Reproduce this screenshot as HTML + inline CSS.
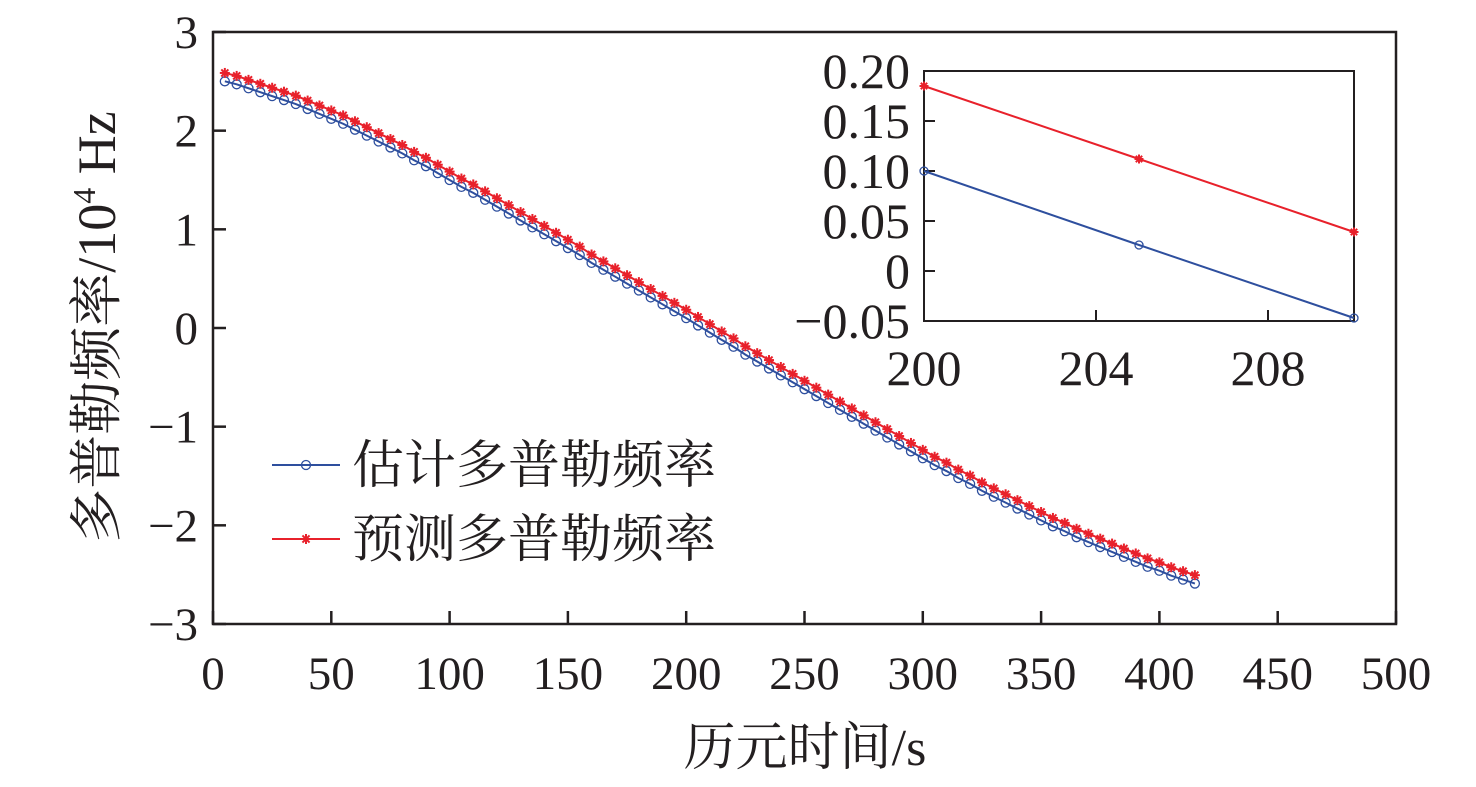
<!DOCTYPE html>
<html><head><meta charset="utf-8">
<style>
html,body{margin:0;padding:0;background:#fff;}
svg{display:block;}
text{font-family:"Liberation Serif","Noto Serif CJK SC",serif;fill:#231f20;}
</style></head>
<body>
<svg id="chart" width="1476" height="787" viewBox="0 0 1476 787" xmlns="http://www.w3.org/2000/svg"></svg>
<script>
const times = [5,10,15,20,25,30,35,40,45,50,55,60,65,70,75,80,85,90,95,100,105,110,115,120,125,130,135,140,145,150,155,160,165,170,175,180,185,190,195,200,205,210,215,220,225,230,235,240,245,250,255,260,265,270,275,280,285,290,295,300,305,310,315,320,325,330,335,340,345,350,355,360,365,370,375,380,385,390,395,400,405,410,415];
const estimated = [2.50,2.47,2.43,2.39,2.35,2.31,2.27,2.22,2.17,2.12,2.07,2.01,1.95,1.89,1.83,1.77,1.70,1.64,1.57,1.50,1.43,1.37,1.30,1.23,1.16,1.09,1.02,0.95,0.88,0.81,0.74,0.66,0.59,0.52,0.45,0.38,0.31,0.24,0.17,0.10,0.026,-0.047,-0.12,-0.19,-0.27,-0.34,-0.41,-0.48,-0.55,-0.62,-0.69,-0.76,-0.83,-0.90,-0.97,-1.04,-1.11,-1.18,-1.25,-1.32,-1.39,-1.45,-1.52,-1.58,-1.65,-1.71,-1.77,-1.83,-1.89,-1.95,-2.01,-2.06,-2.12,-2.17,-2.22,-2.27,-2.32,-2.37,-2.42,-2.46,-2.51,-2.55,-2.59];
const predicted = [2.585,2.555,2.515,2.475,2.435,2.395,2.355,2.305,2.255,2.205,2.155,2.095,2.035,1.975,1.915,1.855,1.785,1.725,1.655,1.585,1.515,1.455,1.385,1.315,1.245,1.175,1.105,1.035,0.965,0.895,0.825,0.745,0.675,0.605,0.535,0.465,0.395,0.325,0.255,0.185,0.112,0.039,-0.035,-0.105,-0.185,-0.255,-0.325,-0.395,-0.465,-0.535,-0.605,-0.675,-0.745,-0.815,-0.885,-0.955,-1.025,-1.095,-1.165,-1.235,-1.305,-1.365,-1.435,-1.495,-1.565,-1.625,-1.685,-1.745,-1.805,-1.865,-1.925,-1.975,-2.035,-2.085,-2.135,-2.185,-2.235,-2.285,-2.335,-2.375,-2.425,-2.465,-2.505];
const xTicks = [0,50,100,150,200,250,300,350,400,450,500];
const yTicks = [3,2,1,0,-1,-2,-3];
const yTickLabels = ["3","2","1","0","\u22121","\u22122","\u22123"];
const insetXTicks = [200,204,208];
const insetYTicks = [0.20,0.15,0.10,0.05,0,-0.05];
const insetYTickLabels = ["0.20","0.15","0.10","0.05","0","\u22120.05"];

const NS="http://www.w3.org/2000/svg";
const svg=document.getElementById('chart');
function mk(tag,attrs,parent){const e=document.createElementNS(NS,tag);for(const k in attrs)e.setAttribute(k,attrs[k]);(parent||svg).appendChild(e);return e;}

const L=213,R=1396,T=32,B=624;
const xS=v=>L+(v-0)/(500-0)*(R-L);
const yS=v=>B-(v-(-3))/6*(B-T);
const iL=924,iR=1354,iT=71,iB=321;
const ixS=v=>iL+(v-200)/10*(iR-iL);
const iyS=v=>iB-(v-(-0.05))/0.25*(iB-iT);

const frame=mk('rect',{x:L,y:T,width:R-L,height:B-T,fill:'none',stroke:'#231f20','stroke-width':2.5});



xTicks.forEach(v=>{
  const x=xS(v);
  const t=mk('line',{x1:x,y1:B,x2:x,y2:B-13,stroke:'#231f20','stroke-width':2.5});
  
  
  const l=mk('text',{x:x,y:689,'font-size':47,'text-anchor':'middle'});
  l.textContent=v;
  
  
});
yTicks.forEach((v,i)=>{
  const y=yS(v);
  const t=mk('line',{x1:L,y1:y,x2:L+13,y2:y,stroke:'#231f20','stroke-width':2.5});
  
  
  const l=mk('text',{x:198,y:y+16,'font-size':47,'text-anchor':'end'});
  l.textContent=yTickLabels[i];
  
  
});

const xt=mk('text',{x:805,y:765,'font-size':52,'text-anchor':'middle'});
xt.textContent='历元时间/s';



const yt=mk('text',{x:0,y:0,'font-size':54,'text-anchor':'middle',transform:'translate(115,327) rotate(-90)'});
yt.innerHTML='多普勒频率/10<tspan dy="-20" font-size="32">4</tspan><tspan dy="20"> Hz</tspan>';



function star(g,x,y,r,color){
  for(let a=0;a<4;a++){const ang=a*Math.PI/4;
    mk('line',{x1:x-r*Math.cos(ang),y1:y-r*Math.sin(ang),x2:x+r*Math.cos(ang),y2:y+r*Math.sin(ang),stroke:color,'stroke-width':2},g);}
}
function series(xs,ys,xf,yf,color,kind,name,r){
  const g=mk('g',{});
  
  
  const pl=mk('polyline',{points:xs.map((t,i)=>xf(t)+','+yf(ys[i])).join(' '),fill:'none',stroke:color,'stroke-width':2},g);
  
  
  xs.forEach((t,i)=>{
    if(kind==='o'){const c=mk('circle',{cx:xf(t),cy:yf(ys[i]),r:r,fill:'none',stroke:color,'stroke-width':1.3},g);
      
      }
    else star(g,xf(t),yf(ys[i]),r,color);
  });
}
const BLUE='#2e4f9e',RED='#e8212b';
series(times,estimated,xS,yS,BLUE,'o','estimated-series',4.5);
series(times,predicted,xS,yS,RED,'*','predicted-series',5);

const lg=mk('g',{});


mk('line',{x1:272,y1:465,x2:340,y2:465,stroke:BLUE,'stroke-width':2},lg);
mk('circle',{cx:306,cy:465,r:4.5,fill:'none',stroke:BLUE,'stroke-width':1.3},lg);
const l1=mk('text',{x:352,y:483,'font-size':52},lg);l1.textContent='估计多普勒频率';


mk('line',{x1:272,y1:539,x2:340,y2:539,stroke:RED,'stroke-width':2},lg);
star(lg,306,539,5,RED);
const l2=mk('text',{x:352,y:557,'font-size':52},lg);l2.textContent='预测多普勒频率';



const ig=mk('g',{});


mk('rect',{x:iL,y:iT,width:iR-iL,height:iB-iT,fill:'#fff',stroke:'#231f20','stroke-width':2},ig);
insetXTicks.forEach(v=>{
  const x=ixS(v);
  mk('line',{x1:x,y1:iB,x2:x,y2:iB-11,stroke:'#231f20','stroke-width':2},ig);
  const l=mk('text',{x:x,y:385,'font-size':50,'text-anchor':'middle'},ig);
  l.textContent=v;
  
  
});
insetYTicks.forEach((v,i)=>{
  const y=iyS(v);
  mk('line',{x1:iL,y1:y,x2:iL+11,y2:y,stroke:'#231f20','stroke-width':2},ig);
  const l=mk('text',{x:910,y:y+17,'font-size':50,'text-anchor':'end'},ig);
  l.textContent=insetYTickLabels[i];
  
  
});
const iTimes=times.filter(t=>t>=200&&t<=210);
const iEst=iTimes.map(t=>estimated[times.indexOf(t)]);
const iPred=iTimes.map(t=>predicted[times.indexOf(t)]);
series(iTimes,iEst,ixS,iyS,BLUE,'o','inset-estimated-series',4);
series(iTimes,iPred,ixS,iyS,RED,'*','inset-predicted-series',4.5);
</script>
</body></html>
